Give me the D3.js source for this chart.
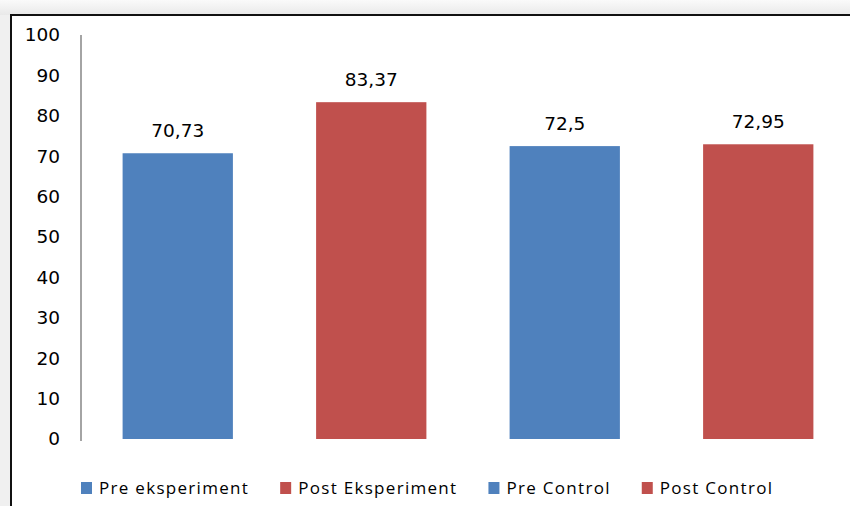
<!DOCTYPE html>
<html>
<head>
<meta charset="utf-8">
<script src="https://cdn.jsdelivr.net/npm/d3@7"></script>
<style>
  body { margin: 0; background: #fff; }
  svg { display: block; }
</style>
</head>
<body>
<div id="chart"></div>
<script>
// Chart data
var categories = ["Pre eksperiment", "Post Eksperiment", "Pre Control", "Post Control"];
var values = [70.73, 83.37, 72.5, 72.95];
var valueLabels = ["70,73", "83,37", "72,5", "72,95"];
var yTicks = [0, 10, 20, 30, 40, 50, 60, 70, 80, 90, 100];
var barColors = ["#4F81BD", "#C0504D", "#4F81BD", "#C0504D"];

var width = 850, height = 506;

var svg = d3.select("#chart").append("svg")
    .attr("width", width)
    .attr("height", height);

// Grey window background with gradient at top
var defs = svg.append("defs");
var grad = defs.append("linearGradient")
    .attr("id", "bg-grad")
    .attr("x1", 0).attr("y1", 0).attr("x2", 0).attr("y2", 1);
grad.append("stop").attr("offset", "0%").attr("stop-color", "#fafafa");
grad.append("stop").attr("offset", "100%").attr("stop-color", "#e9e9e9");

svg.append("rect")
    .attr("width", width)
    .attr("height", height)
    .attr("fill", "#f0f0f0");
svg.append("rect")
    .attr("width", width)
    .attr("height", 15)
    .attr("fill", "url(#bg-grad)");

// Chart frame
svg.append("rect")
    .attr("x", 11)
    .attr("y", 15)
    .attr("width", width + 20)
    .attr("height", height + 20)
    .attr("fill", "#fff")
    .attr("stroke", "#111")
    .attr("stroke-width", 2);

// Scales
var margin = {top: 35, left: 81, bottom: 67, right: -5};
var xScale = d3.scaleBand()
    .domain(categories)
    .range([margin.left, width - margin.right])
    .paddingInner(0.43)
    .paddingOuter(0.215);

var yScale = d3.scaleLinear()
    .domain([0, 100])
    .range([height - margin.bottom, margin.top]);

// Y axis
var yAxis = d3.axisLeft(yScale)
    .tickValues(yTicks)
    .tickSize(0)
    .tickPadding(21)
    .tickFormat(d3.format("d"));

var yAxisG = svg.append("g")
    .attr("class", "y axis")
    .attr("transform", "translate(" + margin.left + ",0)")
    .call(yAxis);

yAxisG.select(".domain")
    .attr("stroke", "#868686")
    .attr("stroke-width", 1.5)
    .attr("d", "M0," + yScale(100) + "V" + (yScale(0) + 2));

yAxisG.selectAll("text")
    .attr("font-family", "DejaVu Sans, Verdana, sans-serif")
    .attr("font-size", "18.5px")
    .attr("fill", "#000");

// Bars
svg.selectAll(".bar")
    .data(values)
    .enter()
    .append("rect")
    .attr("class", "bar")
    .attr("x", function(d, i) { return xScale(categories[i]); })
    .attr("y", function(d) { return yScale(d); })
    .attr("width", xScale.bandwidth())
    .attr("height", function(d) { return yScale(0) - yScale(d); })
    .attr("fill", function(d, i) { return barColors[i]; });

// Value labels
svg.selectAll(".value-label")
    .data(values)
    .enter()
    .append("text")
    .attr("class", "value-label")
    .attr("x", function(d, i) { return xScale(categories[i]) + xScale.bandwidth() / 2; })
    .attr("y", function(d) { return yScale(d) - 16; })
    .attr("text-anchor", "middle")
    .attr("font-family", "DejaVu Sans, Verdana, sans-serif")
    .attr("font-size", "18.5px")
    .attr("fill", "#000")
    .text(function(d, i) { return valueLabels[i]; });

// Legend, laid out left to right
var legendG = svg.append("g").attr("class", "legend");
var legendX = margin.left;
var legendY = 488;
categories.forEach(function(cat, i) {
    var item = legendG.append("g")
        .attr("transform", "translate(" + legendX + "," + legendY + ")");
    item.append("rect")
        .attr("x", 0)
        .attr("y", -6)
        .attr("width", 11)
        .attr("height", 12)
        .attr("fill", barColors[i]);
    var label = item.append("text")
        .attr("x", 18)
        .attr("y", 0)
        .attr("dy", "0.35em")
        .attr("font-family", "Open Sans, sans-serif")
        .attr("font-size", "17px")
        .attr("letter-spacing", "1.3px")
        .attr("fill", "#000")
        .text(cat);
    legendX += 18 + label.node().getComputedTextLength() + 31;
});
</script>
</body>
</html>
